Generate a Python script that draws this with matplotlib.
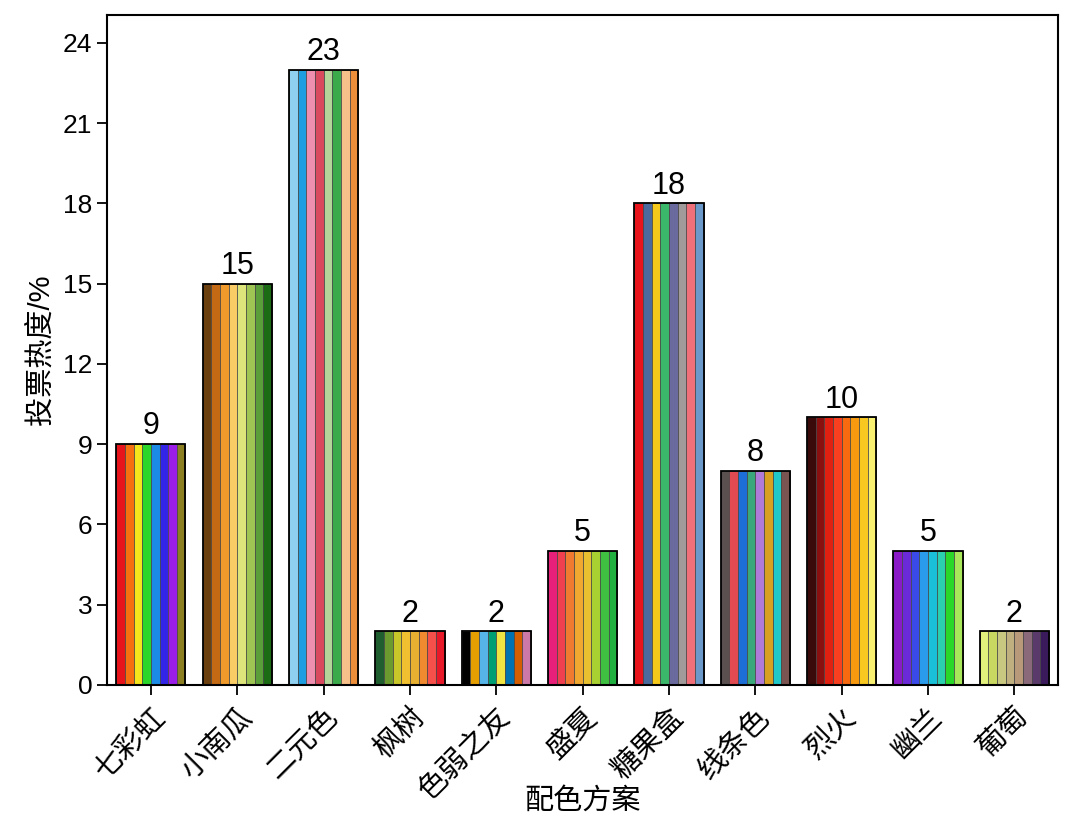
import matplotlib.pyplot as plt
import numpy as np

plt.rcParams['font.family'] = ['Liberation Sans', 'Noto Sans CJK SC', 'DejaVu Sans']

# Data
schemes = ['七彩虹', '小南瓜', '二元色', '枫树', '色弱之友', '盛夏',
           '糖果盒', '线条色', '烈火', '幽兰', '葡萄']
votes = [9, 15, 23, 2, 2, 5, 18, 8, 10, 5, 2]

# 8 colour stripes for each palette
palettes = [
    ['#e8141c', '#f7700f', '#f5e51c', '#2bd62b', '#1a8ae6', '#3325e8', '#9b1ee8', '#8c7f22'],
    ['#6b3f0e', '#c46a14', '#ef9a2a', '#f9cc66', '#dde57a', '#9ec454', '#5a9e3a', '#1a6b14'],
    ['#8fd0f0', '#1e9ee0', '#ef8fb0', '#d94a5e', '#b5d69a', '#3aaa4a', '#f5c08a', '#ec8e3a'],
    ['#1f5e2e', '#6b9a2e', '#c9c62a', '#f0c030', '#e8b030', '#f08a30', '#f5504a', '#e81a2a'],
    ['#000000', '#e69f00', '#56b4e9', '#009e73', '#f0e442', '#0072b2', '#d55e00', '#cc79a7'],
    ['#e8207a', '#f04050', '#f07a30', '#f0a830', '#e8c030', '#a8d030', '#40c040', '#20b040'],
    ['#e8141c', '#4a6a9e', '#f5c81c', '#3cb86a', '#6a6a9e', '#a09a9a', '#f0707a', '#6a98c8'],
    ['#5a5050', '#e04a50', '#1e6ed8', '#3aa87a', '#b07ad8', '#d8a020', '#20c8c8', '#7a5450'],
    ['#3a0a0a', '#8a1010', '#e02010', '#f84020', '#f86a10', '#f89a10', '#f8c820', '#f8f070'],
    ['#8a1ac8', '#6a2ad8', '#3a4ae8', '#2a9aea', '#1ac0d8', '#2ad0b0', '#2ad82a', '#a8e85a'],
    ['#e0f07a', '#c8d860', '#c8c880', '#c0b080', '#b89a7a', '#8a6a7a', '#5a3a6a', '#3a1a5a'],
]

fig = plt.figure(figsize=(10.8, 8.26), dpi=100)
ax = fig.add_axes([0.099, 0.171, 0.881, 0.811])

x = np.arange(len(schemes))
bar_w = 0.8
n_stripes = 8
stripe_w = bar_w / n_stripes

for i, (v, cols) in enumerate(zip(votes, palettes)):
    left = x[i] - bar_w / 2
    for k, c in enumerate(cols):
        ax.bar(left + stripe_w * (k + 0.5), v, width=stripe_w, color=c,
               edgecolor='#444444', linewidth=0.5)
    # outline of the whole bar
    ax.bar(x[i], v, width=bar_w, facecolor='none', edgecolor='black', linewidth=1.3)
    ax.text(x[i], v + 0.1, str(v), ha='center', va='bottom', fontsize=22)

ax.set_xlim(-0.51, len(schemes) - 0.49)
ax.set_ylim(0, 25.05)
ax.set_yticks(np.arange(0, 25, 3))
ax.set_xticks(x)
ax.set_xticklabels(schemes, rotation=45, ha='right', rotation_mode='anchor',
                   fontsize=21)
ax.tick_params(axis='y', labelsize=19, direction='out', length=7, width=1.3)
ax.tick_params(axis='x', direction='out', length=7, width=1.3, pad=6)

for s in ax.spines.values():
    s.set_linewidth(1.5)

ax.set_xlabel('配色方案', fontsize=21)
ax.xaxis.set_label_coords(0.5, -0.152)
ax.set_ylabel('投票热度/%', fontsize=21, labelpad=6)

plt.savefig('out.png', dpi=100)
